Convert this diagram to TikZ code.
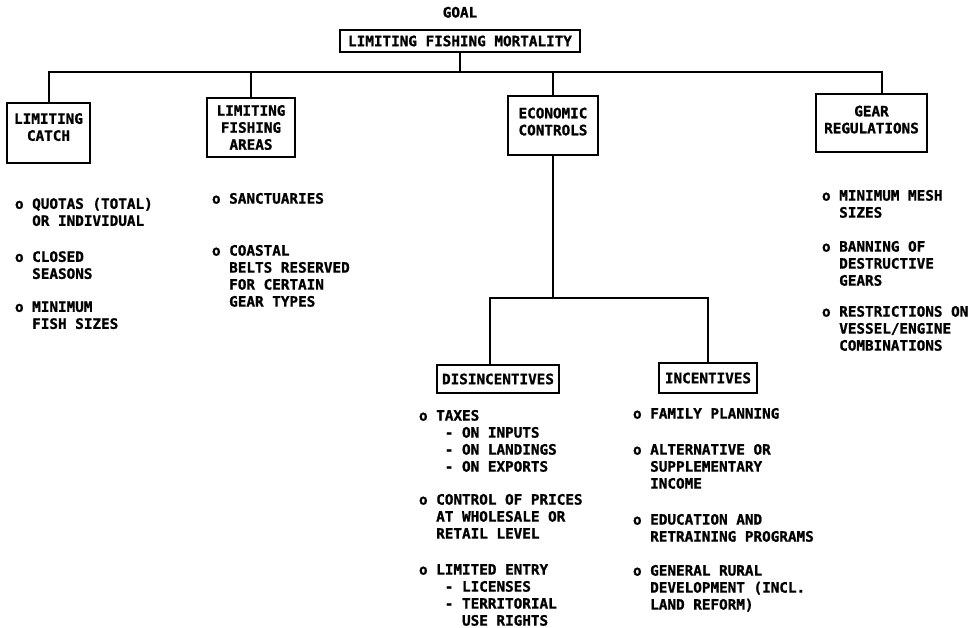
\documentclass[tikz,border=0pt]{standalone}
\usepackage{fontspec}
\setmonofont[BoldFeatures={FakeBold=1.2}]{DejaVu Sans Mono}
\usetikzlibrary{positioning}
\newcommand\ii{\phantom{o\ }}
\begin{document}
\begin{tikzpicture}[x=1pt, y=-1pt, line width=2pt]
	\tikzset{t/.style={font=\ttfamily\bfseries\fontsize{14.3}{17}\selectfont},
	b/.style={t, draw=black, align=center, inner sep=0pt},
	l/.style={t, align=left, anchor=north west, inner sep=0pt}};

	\useasboundingbox (0,0) rectangle (976,628);

	\node[b, minimum width=240, minimum height=22] (top) at (460,41) {LIMITING FISHING MORTALITY};
	\node[t, above=7pt of top] (goal) {GOAL};
	\node[b, minimum width=83, minimum height=60] (catch) at (48.5,133) {LIMITING\\CATCH\\[-5pt]\mbox{}};
	\node[b, minimum width=88, minimum height=59] (areas) at (251,127.5) {LIMITING\\FISHING\\AREAS};
	\node[b, minimum width=90, minimum height=59] (econ) at (553,125.5) {ECONOMIC\\CONTROLS\\[-9pt]\mbox{}};
	\node[b, minimum width=111, minimum height=58] (gear) at (871.5,123) {GEAR\\REGULATIONS\\[-10pt]\mbox{}};
	\node[b, minimum width=122, minimum height=28] (disinc) at (498,379) {DISINCENTIVES};
	\node[b, minimum width=98, minimum height=30] (inc) at (708,378) {INCENTIVES};

	\node[l] (catchl) at (14,197) {o QUOTAS (TOTAL)\\\ii OR INDIVIDUAL\\[19pt]o CLOSED\\\ii SEASONS\\[16pt]o MINIMUM\\\ii FISH SIZES};
	\node[l] (areasl) at (211,192) {o SANCTUARIES\\[35pt]o COASTAL\\\ii BELTS RESERVED\\\ii FOR CERTAIN\\\ii GEAR TYPES};
	\node[l] (gearl) at (821,189) {o MINIMUM MESH\\\ii SIZES\\[17pt]o BANNING OF\\\ii DESTRUCTIVE\\\ii GEARS\\[14pt]o RESTRICTIONS ON\\\ii VESSEL/ENGINE\\\ii COMBINATIONS};
	\node[l] (disincl) at (418,409) {o TAXES\\\ii\ - ON INPUTS\\\ii\ - ON LANDINGS\\\ii\ - ON EXPORTS\\[16pt]o CONTROL OF PRICES\\\ii AT WHOLESALE OR\\\ii RETAIL LEVEL\\[19pt]o LIMITED ENTRY\\\ii\ - LICENSES\\\ii\ - TERRITORIAL\\\ii\ \ \ USE RIGHTS};
	\node[l] (incl) at (632,407) {o FAMILY PLANNING\\[19pt]o ALTERNATIVE OR\\\ii SUPPLEMENTARY\\\ii INCOME\\[19pt]o EDUCATION AND\\\ii RETRAINING PROGRAMS\\[17pt]o GENERAL RURAL\\\ii DEVELOPMENT (INCL.\\\ii LAND REFORM)};

	\coordinate (bus) at (0,72);
	\coordinate (sub) at (0,298);
	\coordinate (gs) at ([xshift=10pt]gear.north);
	\coordinate (ds) at ([xshift=-8pt]disinc.north);

	\draw (top.south) -- (top.south |- bus);
	\draw (catch.north) -- (catch.north |- bus) -- (gs |- bus) -- (gs);
	\draw (areas.north) -- (areas.north |- bus);
	\draw (econ.north) -- (econ.north |- bus);
	\draw (econ.south) -- (econ.south |- sub);
	\draw (ds) -- (ds |- sub) -- (inc.north |- sub) -- (inc.north);
\end{tikzpicture}
\end{document}
